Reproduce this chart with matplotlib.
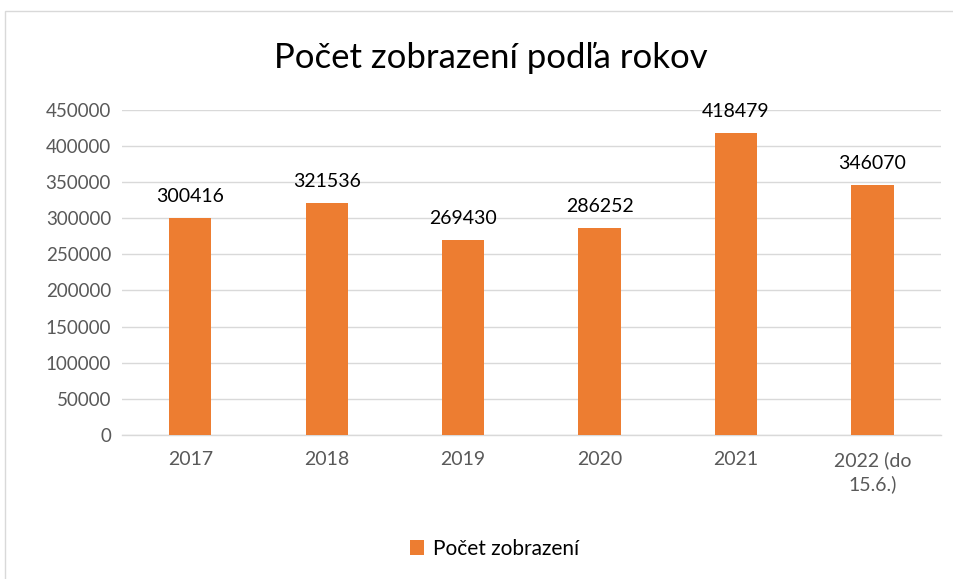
import matplotlib.pyplot as plt
from matplotlib.patches import Rectangle

# data
roky = ['2017', '2018', '2019', '2020', '2021', '2022 (do\n15.6.)']
zobrazenia = [300416, 321536, 269430, 286252, 418479, 346070]

plt.rcParams['font.family'] = ['Lato', 'DejaVu Sans']

fig = plt.figure(figsize=(9.54, 5.79), dpi=100)
ax = fig.add_axes([0.128, 0.249, 0.858, 0.561])

x = range(len(roky))
bars = ax.bar(x, zobrazenia, width=0.31, color='#ED7D31', label='Počet zobrazení', zorder=3)
for xi, v in zip(x, zobrazenia):
    ax.text(xi, v + 18000, str(v), ha='center', va='bottom', fontsize=14, color='black')

ax.set_xlim(-0.5, len(roky) - 0.5)
ax.set_ylim(0, 450000)
ax.set_yticks(range(0, 450001, 50000))
ax.set_xticks(list(x))
ax.set_xticklabels(roky, fontsize=14, color='#595959', linespacing=1.4)
ax.tick_params(axis='y', labelsize=13.5, labelcolor='#595959', length=0, pad=8)
ax.tick_params(axis='x', length=0, pad=12)
ax.yaxis.grid(True, color='#D9D9D9', linewidth=1, zorder=0)
for s in ['top', 'right', 'left']:
    ax.spines[s].set_visible(False)
ax.spines['bottom'].set_color('#D9D9D9')
ax.spines['bottom'].set_linewidth(1)

fig.text(0.514, 0.9, 'Počet zobrazení podľa rokov', ha='center', va='center', fontsize=25, color='black')

fig.legend(handles=[bars], loc='center', bbox_to_anchor=(0.518, 0.052), frameon=False,
           fontsize=15, handlelength=0.7, handleheight=0.7, handletextpad=0.4)

# chart border
fig.patches.append(Rectangle((5 / 954, -0.01), 1.02, 1 - 11 / 579 + 0.01, transform=fig.transFigure,
                             fill=False, edgecolor='#D9D9D9', linewidth=1))

fig.savefig('out.png', dpi=100)
